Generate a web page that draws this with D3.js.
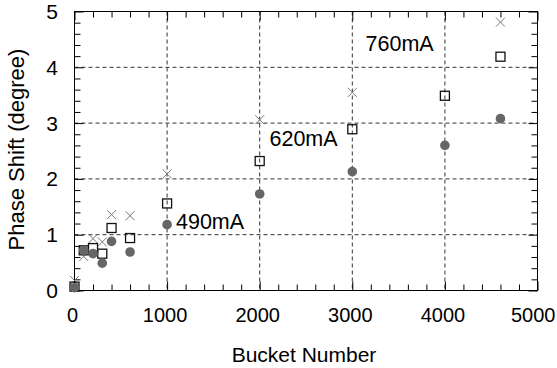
<!DOCTYPE html>
<html>
<head>
<meta charset="utf-8">
<script src="https://cdn.jsdelivr.net/npm/d3@7"></script>
<style>
  html, body { margin: 0; padding: 0; background: #fff; }
  svg { display: block; font-family: "Liberation Sans", Arial, Helvetica, sans-serif; }
</style>
</head>
<body>
<svg id="chart" width="557" height="368"></svg>
<script>
// Bunch position along the train and measured phase shift per beam current
const buckets  = [0, 100, 200, 300, 400, 600, 1000, 2000, 3000, 4000, 4600];
const phase490 = [0.05, 0.72, 0.66, 0.49, 0.88, 0.69, 1.18, 1.73, 2.13, 2.60, 3.08];
const phase620 = [0.07, 0.72, 0.76, 0.66, 1.12, 0.94, 1.56, 2.32, 2.89, 3.49, 4.19];
const phase760 = [0.18, 0.61, 0.93, 0.87, 1.36, 1.34, 2.09, 3.06, 3.55, null, 4.81];

const xTicks = [0, 1000, 2000, 3000, 4000, 5000];
const yTicks = [0, 1, 2, 3, 4, 5];

// Curve labels: beam current and where each label is anchored (data units)
const labelText   = ["760mA", "620mA", "490mA"];
const labelBucket = [3143, 2106, 1096];
const labelPhase  = [4.29, 2.595, 1.097];

const W = 557;
const svg = d3.select("#chart");
const plotL = 74.5, plotR = 537.5, plotT = 11.5, plotB = 290.5;

const x = d3.scaleLinear().domain([0, 5000]).range([plotL, plotR]);
const y = d3.scaleLinear().domain([0, 5]).range([plotB, plotT]);

// dashed grid at interior major ticks
const grid = svg.append("g").attr("stroke", "#333").attr("stroke-width", 1)
  .attr("stroke-dasharray", "4,3").attr("fill", "none");
xTicks.filter(v => v > 0 && v < 5000).forEach(v => {
  grid.append("line").attr("x1", x(v)).attr("x2", x(v)).attr("y1", plotT).attr("y2", plotB);
});
yTicks.filter(v => v > 0 && v < 5).forEach(v => {
  grid.append("line").attr("x1", plotL).attr("x2", plotR).attr("y1", y(v)).attr("y2", y(v));
});

// axes with inward ticks on all four sides
const xMinor = d3.range(0, 5001, 200);
const yMinor = d3.range(0, 26).map(i => +(i * 0.2).toFixed(1));
const majorLen = 9, minorLen = 6;
const isMajorX = v => v % 1000 === 0;
const isMajorY = v => Math.abs(v - Math.round(v)) < 1e-6;

const bottomAx = svg.append("g").attr("transform", `translate(0,${plotB})`)
  .call(d3.axisBottom(x).tickValues(xMinor).tickSizeOuter(0).tickFormat(""));
bottomAx.selectAll(".tick line").attr("y2", d => -(isMajorX(d) ? majorLen : minorLen));
const topAx = svg.append("g").attr("transform", `translate(0,${plotT})`)
  .call(d3.axisTop(x).tickValues(xMinor).tickSizeOuter(0).tickFormat(""));
topAx.selectAll(".tick line").attr("y2", d => (isMajorX(d) ? majorLen : minorLen));
const leftAx = svg.append("g").attr("transform", `translate(${plotL},0)`)
  .call(d3.axisLeft(y).tickValues(yMinor).tickSizeOuter(0).tickFormat(""));
leftAx.selectAll(".tick line").attr("x2", d => (isMajorY(d) ? majorLen : minorLen));
const rightAx = svg.append("g").attr("transform", `translate(${plotR},0)`)
  .call(d3.axisRight(y).tickValues(yMinor).tickSizeOuter(0).tickFormat(""));
rightAx.selectAll(".tick line").attr("x2", d => -(isMajorY(d) ? majorLen : minorLen));
[bottomAx, topAx, leftAx, rightAx].forEach(g => {
  g.select(".domain").remove();
  g.selectAll(".tick line").attr("stroke", "#000");
});

// frame
svg.append("rect").attr("x", plotL).attr("y", plotT)
  .attr("width", plotR - plotL).attr("height", plotB - plotT)
  .attr("fill", "none").attr("stroke", "#000").attr("stroke-width", 1);

// tick labels (the last one is kept inside the right edge)
svg.append("g").selectAll("text").data(xTicks).join("text")
  .attr("y", 322)
  .attr("text-anchor", "middle").attr("font-size", 20).attr("fill", "#000")
  .text(d => d)
  .attr("x", function (d) {
    const half = this.getComputedTextLength() / 2;
    return Math.min(x(d) - 2, W - 1.5 - half);
  });
svg.append("g").selectAll("text").data(yTicks).join("text")
  .attr("x", 58).attr("y", d => y(d) + 7.5)
  .attr("text-anchor", "end").attr("font-size", 21).attr("fill", "#000")
  .text(d => d);

// axis titles
svg.append("text").attr("x", 304).attr("y", 361.5)
  .attr("text-anchor", "middle").attr("font-size", 21).text("Bucket Number");
svg.append("text").attr("transform", `translate(24,149.5) rotate(-90)`)
  .attr("text-anchor", "middle").attr("font-size", 22).text("Phase Shift (degree)");

// data
const pts = s => buckets.map((b, i) => ({ b, v: s[i] })).filter(d => d.v != null);

// 760mA: crosses
const cs = 4.5;
svg.append("g").attr("stroke", "#777").attr("stroke-width", 1).selectAll("path")
  .data(pts(phase760)).join("path")
  .attr("d", d => {
    const cx = x(d.b), cy = y(d.v);
    return `M${cx - cs},${cy - cs}L${cx + cs},${cy + cs}M${cx - cs},${cy + cs}L${cx + cs},${cy - cs}`;
  });

// 620mA: open squares
const sq = 9;
svg.append("g").attr("stroke", "#111").attr("stroke-width", 1.3).attr("fill", "none")
  .selectAll("rect").data(pts(phase620)).join("rect")
  .attr("x", d => x(d.b) - sq / 2).attr("y", d => y(d.v) - sq / 2)
  .attr("width", sq).attr("height", sq);

// 490mA: filled circles
svg.append("g").attr("fill", "#666").selectAll("circle")
  .data(pts(phase490)).join("circle")
  .attr("cx", d => x(d.b)).attr("cy", d => y(d.v)).attr("r", 4.8);

// current labels
svg.append("g").selectAll("text").data(labelText).join("text")
  .attr("x", (d, i) => x(labelBucket[i]))
  .attr("y", (d, i) => y(labelPhase[i]))
  .attr("font-size", 21.5).attr("fill", "#000")
  .text(d => d);
</script>
</body>
</html>
